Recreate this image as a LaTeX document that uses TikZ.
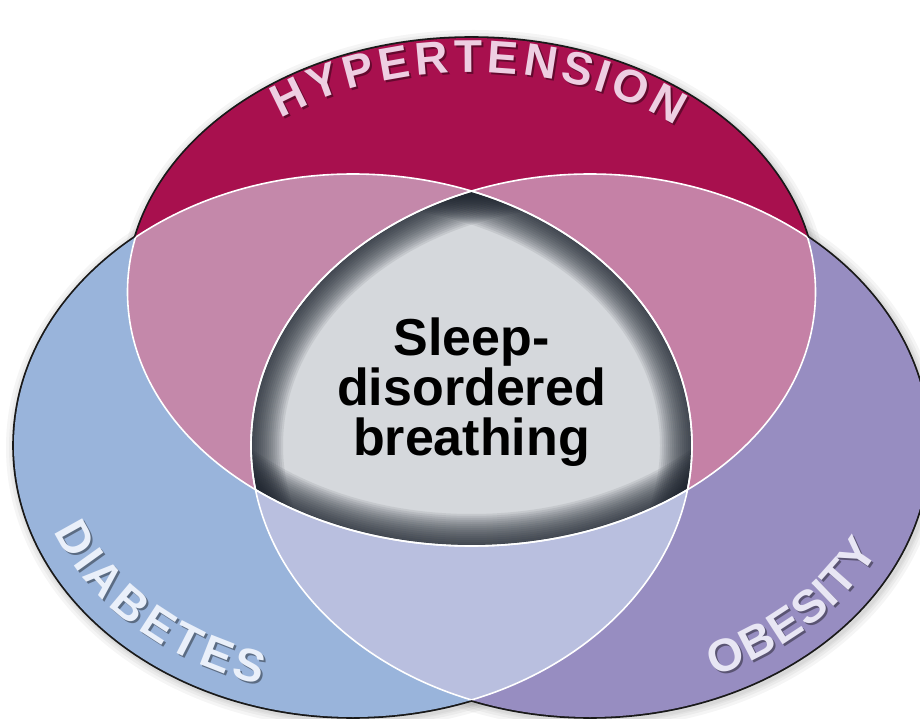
\documentclass[tikz,border=0pt]{standalone}
\usepackage{fontspec}
\setsansfont{Liberation Sans}
\usepackage{xcolor}
\usepackage{tikz}
\usetikzlibrary{decorations.text}
\definecolor{hypCol}{RGB}{168,16,78}
\definecolor{diaCol}{RGB}{153,180,219}
\definecolor{obeCol}{RGB}{151,141,193}
\definecolor{mixLCol}{RGB}{196,136,170}
\definecolor{mixRCol}{RGB}{197,129,166}
\definecolor{lensCol}{RGB}{185,191,223}
\definecolor{coreCol}{RGB}{213,216,220}
\definecolor{edgeCol}{RGB}{28,34,44}
\definecolor{hypTxt}{RGB}{238,206,226}
\definecolor{diaTxt}{RGB}{234,240,250}
\definecolor{obeTxt}{RGB}{232,230,244}
\newcommand{\lblfont}{\sffamily\bfseries\fontsize{46}{46}\selectfont}
\newcommand{\corefont}{\sffamily\bfseries\fontsize{52}{50}\selectfont}
% the three sets
\newcommand{\hypShape}{(471.5,426) ellipse [x radius=344, y radius=254]}
\newcommand{\diaShape}{(353,272.5) ellipse [x radius=339, y radius=271.5]}
\newcommand{\obeShape}{(590,272.5) ellipse [x radius=339, y radius=271.5]}
\tikzset{
  rim/.style={draw=black!90, line width=3.6},
  glow/.style={draw=black, line width=#1, opacity=0.04},
  sep/.style={draw=white, line width=1.6},
  shade/.style={draw=edgeCol, line width=#1, opacity=0.085},
  lbl/.style 2 args={decorate, decoration={text effects along path, text={#1},
      text align=center, text effects/.cd, text along path, fit text to path,
      characters={font=\lblfont, text=#2, inner sep=0pt}}},
  lblshadow/.style={decorate, decoration={text effects along path, text={#1},
      text align=center, text effects/.cd, text along path, fit text to path,
      characters={font=\lblfont, text=black, text opacity=0.4, inner sep=0pt}}},
  core/.style={align=center, font=\corefont, text=black, inner sep=0pt},
}
\begin{document}
\begin{tikzpicture}[x=1pt, y=1pt]
  \useasboundingbox (0,0) rectangle (920,718);
  \clip (0,0) rectangle (920,718);

  % soft glow and outline round the outside
  \foreach \w in {20,14,9,6} {
    \path[glow=\w, shift={(2,-2)}] \hypShape;
    \path[glow=\w, shift={(2,-2)}] \diaShape;
    \path[glow=\w, shift={(2,-2)}] \obeShape;
  }
  \path[rim] \hypShape \diaShape \obeShape;

  % single sets
  \fill[hypCol] \hypShape;
  \fill[diaCol] \diaShape;
  \fill[obeCol] \obeShape;

  % pairwise overlaps
  \begin{scope}
    \clip \diaShape;
    \fill[lensCol] \obeShape;
  \end{scope}
  \begin{scope}
    \clip \hypShape;
    \fill[mixLCol] \diaShape;
    \fill[mixRCol] \obeShape;
  \end{scope}

  % all three
  \begin{scope}
    \clip \hypShape; \clip \diaShape; \clip \obeShape;
    \fill[coreCol] (0,0) rectangle (920,718);
    \foreach \w in {4,8,...,64} {
      \path[shade=\w] \hypShape;
      \path[shade=\w] \diaShape;
      \path[shade=\w] \obeShape;
    }
  \end{scope}

  % white borders inside
  \begin{scope}
    \clip \diaShape;
    \path[sep] \hypShape \obeShape;
  \end{scope}
  \begin{scope}
    \clip \obeShape;
    \path[sep] \hypShape \diaShape;
  \end{scope}
  \begin{scope}
    \clip \hypShape;
    \path[sep] \diaShape \obeShape;
  \end{scope}

  % curved labels
  \path[lblshadow=HYPERTENSION, shift={(2,-2)}]
    ([shift={(128:310 and 220)}]471.5,426) arc[start angle=128, end angle=49, x radius=310, y radius=220];
  \path[lbl={HYPERTENSION}{hypTxt}]
    ([shift={(128:310 and 220)}]471.5,426) arc[start angle=128, end angle=49, x radius=310, y radius=220];
  \path[lblshadow=DIABETES, shift={(2,-2)}]
    ([shift={(200:318 and 250)}]353,272.5) arc[start angle=200, end angle=253, x radius=318, y radius=250];
  \path[lbl={DIABETES}{diaTxt}]
    ([shift={(200:318 and 250)}]353,272.5) arc[start angle=200, end angle=253, x radius=318, y radius=250];
  \path[lblshadow=OBESITY, shift={(2,-2)}]
    ([shift={(293:318 and 250)}]590,272.5) arc[start angle=293, end angle=335, x radius=318, y radius=250];
  \path[lbl={OBESITY}{obeTxt}]
    ([shift={(293:318 and 250)}]590,272.5) arc[start angle=293, end angle=335, x radius=318, y radius=250];

  % centre text
  \node[core] (sdb) at (471.5,326) {Sleep-\\disordered\\breathing};
\end{tikzpicture}
\end{document}
